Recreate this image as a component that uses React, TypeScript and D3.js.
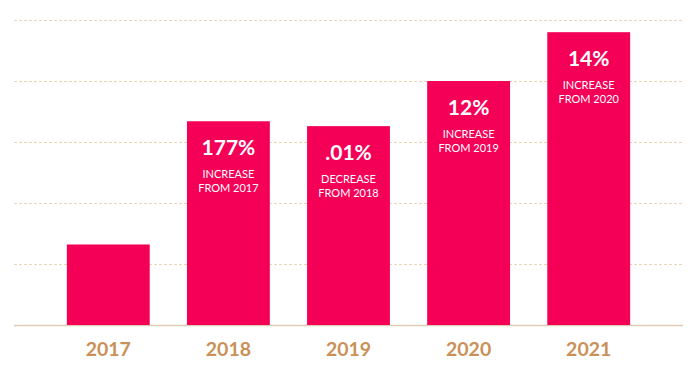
import React from "react";
import * as d3 from "d3";

const years = ["2017", "2018", "2019", "2020", "2021"];
const values = [66, 167, 163, 200, 240];
const pctLabels = ["", "177%", ".01%", "12%", "14%"];
const line1 = ["", "INCREASE", "DECREASE", "INCREASE", "INCREASE"];
const line2 = ["", "FROM 2017", "FROM 2018", "FROM 2019", "FROM 2020"];
const gridTicks = [50, 100, 150, 200, 250];

const W = 700;
const H = 376;
const left = 14;
const right = 683;
const bottom = 325;
const top = 20;

export default function App() {
  const x = d3.scaleBand<string>().domain(years).range([left, right]).paddingInner(0.31).paddingOuter(0.44);
  const y = d3.scaleLinear().domain([0, 250]).range([bottom, top]);
  const font = "Lato, 'Open Sans', sans-serif";
  return (
    <svg width={W} height={H} style={{ position: "absolute", left: 0, top: 0 }}>
      <rect width={W} height={H} fill="#fff" />
      {gridTicks.map((t) => (
        <line key={t} x1={left} x2={right} y1={Math.round(y(t)) + 0.5} y2={Math.round(y(t)) + 0.5}
          stroke="#ebd5b5" strokeWidth={1} strokeDasharray="3,2" />
      ))}
      <line x1={left} x2={right} y1={bottom + 0.5} y2={bottom + 0.5} stroke="#ddcbb3" strokeWidth={1.5} />
      {years.map((yr, i) => {
        const bx = x(yr)!;
        const bw = x.bandwidth();
        const by = y(values[i]);
        const cx = bx + bw / 2;
        return (
          <g key={yr}>
            <rect x={bx} y={by} width={bw} height={bottom - by} fill="#f50057" />
            {pctLabels[i] && (
              <text x={cx} y={by + 34} textAnchor="middle" fill="#fff" fontFamily={font} fontWeight={700} fontSize={21}>
                {pctLabels[i]}
              </text>
            )}
            {line1[i] && (
              <text x={cx} y={by + 57} textAnchor="middle" fill="#fff" fontFamily={font} fontSize={11}>
                {line1[i]}
              </text>
            )}
            {line2[i] && (
              <text x={cx} y={by + 71} textAnchor="middle" fill="#fff" fontFamily={font} fontSize={11}>
                {line2[i]}
              </text>
            )}
            <text x={cx} y={356} textAnchor="middle" fill="#c99158" fontFamily={font} fontWeight={700} fontSize={19.5}>
              {yr}
            </text>
          </g>
        );
      })}
    </svg>
  );
}
